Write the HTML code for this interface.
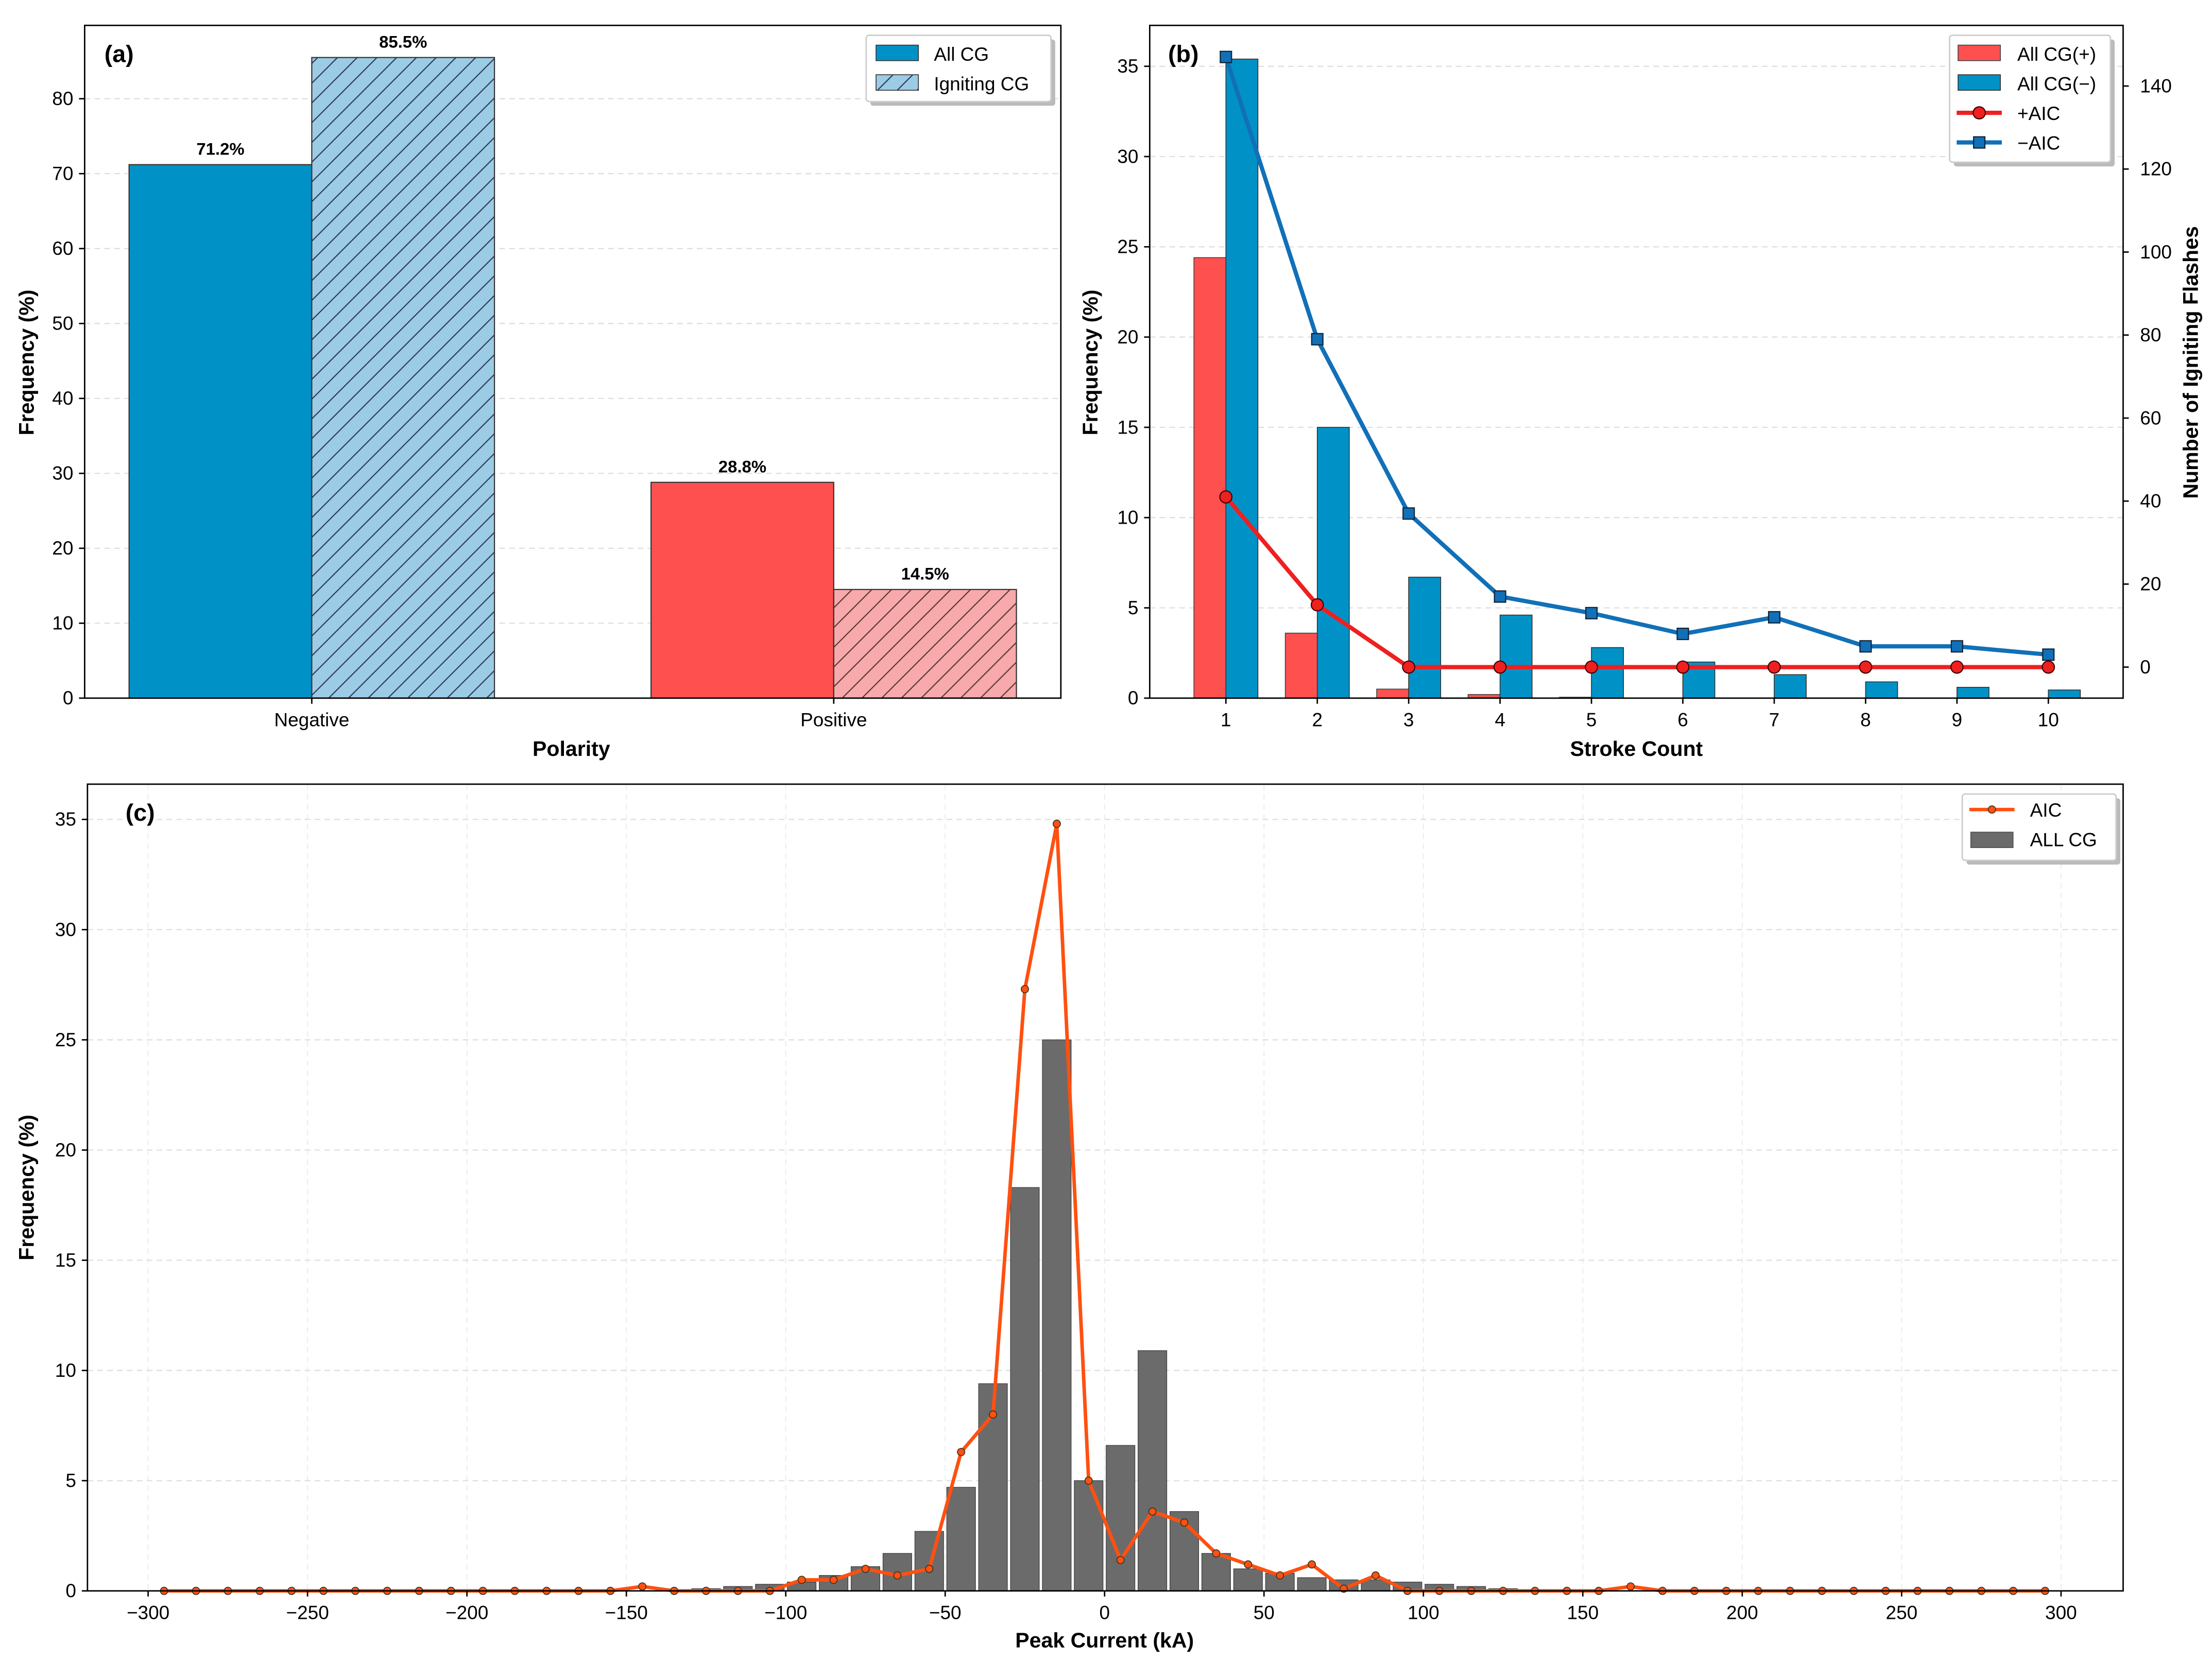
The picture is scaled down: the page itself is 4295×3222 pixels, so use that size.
<!DOCTYPE html>
<html><head><meta charset="utf-8"><style>
html,body{margin:0;padding:0;background:#fff}
svg{display:block;font-family:"Liberation Sans",sans-serif}
</style></head><body>
<svg id="s" width="4295" height="3222" viewBox="0 0 1568 1176.3" preserveAspectRatio="none" xmlns="http://www.w3.org/2000/svg">
<defs>
<pattern id="hb" patternUnits="userSpaceOnUse" width="14" height="14" patternTransform="rotate(0)">
<rect width="14" height="14" fill="#9ccbe6"/><path d="M-1,15 L15,-1 M-8,8 L8,-8 M6,22 L22,6" stroke="#2b3a55" stroke-width="0.8"/></pattern>
<pattern id="hr" patternUnits="userSpaceOnUse" width="14" height="14">
<rect width="14" height="14" fill="#f7a9ab"/><path d="M-1,15 L15,-1 M-8,8 L8,-8 M6,22 L22,6" stroke="#5a3535" stroke-width="0.8"/></pattern>
</defs>
<g id="ga"></g>
<g id="gb"></g>
<g id="gc"></g>
</svg>
<script>
// Panel a data
const aCats=["Negative","Positive"];
const aAll=[71.2,28.8];
const aIgn=[85.5,14.5];
const aYTicks=[0,10,20,30,40,50,60,70,80];
// Panel b data
const bCats=[1,2,3,4,5,6,7,8,9,10];
const bPos=[24.4,3.6,0.5,0.2,0.05,0,0,0,0,0];
const bNeg=[35.4,15.0,6.7,4.6,2.8,2.0,1.3,0.9,0.6,0.45];
const bPosAIC=[41,15,0,0,0,0,0,0,0,0];
const bNegAIC=[147,79,37,17,13,8,12,5,5,3];
const bYTicks=[0,5,10,15,20,25,30,35];
const bY2Ticks=[0,20,40,60,80,100,120,140];
// Panel c data
const cBarX=[-135,-125,-115,-105,-95,-85,-75,-65,-55,-45,-35,-25,-15,-5,5,15,25,35,45,55,65,75,85,95,105,115,125,135,145];
const cBarV=[0.05,0.1,0.2,0.3,0.4,0.7,1.1,1.7,2.7,4.7,9.4,18.3,25.0,5.0,6.6,10.9,3.6,1.7,1.0,0.8,0.6,0.5,0.5,0.4,0.3,0.2,0.1,0.05,0.03];
const cLineX=[-295,-285,-275,-265,-255,-245,-235,-225,-215,-205,-195,-185,-175,-165,-155,-145,-135,-125,-115,-105,-95,-85,-75,-65,-55,-45,-35,-25,-15,-5,5,15,25,35,45,55,65,75,85,95,105,115,125,135,145,155,165,175,185,195,205,215,225,235,245,255,265,275,285,295];
const cLineV=[0,0,0,0,0,0,0,0,0,0,0,0,0,0,0,0.2,0,0,0,0,0.5,0.5,1.0,0.7,1.0,6.3,8.0,27.3,34.8,5.0,1.4,3.6,3.1,1.7,1.2,0.7,1.2,0.1,0.7,0,0,0,0,0,0,0,0.2,0,0,0,0,0,0,0,0,0,0,0,0,0];
const cXTicks=[-300,-250,-200,-150,-100,-50,0,50,100,150,200,250,300];
const cYTicks=[0,5,10,15,20,25,30,35];

const NS="http://www.w3.org/2000/svg";
function el(p,t,a,txt){const e=document.createElementNS(NS,t);for(const k in a)e.setAttribute(k,a[k]);if(txt!==undefined)e.textContent=txt;p.appendChild(e);return e;}
function lin(d0,d1,r0,r1){return v=>r0+(v-d0)*(r1-r0)/(d1-d0);}

// ---------- Panel a ----------
(function(){
const g=document.getElementById('ga');
const L=60,R=752,T=18,B=495;
const x=lin(0,1,221,591), y=lin(0,80,495,70);
aYTicks.forEach(v=>{if(v>0){const l=el(g,'line',{x1:L,x2:R,y1:y(v),y2:y(v),stroke:'#ddd','stroke-dasharray':'4,3','stroke-width':0.8});}});
const bw=0.35*370;
aCats.forEach((c,i)=>{
 const col=i==0?'#0092c7':'#ff5050';
 const r1=el(g,'rect',{x:x(i)-bw,y:y(aAll[i]),width:bw,height:B-y(aAll[i]),fill:col,stroke:'#333','stroke-width':0.8});
 
 const r2=el(g,'rect',{x:x(i),y:y(aIgn[i]),width:bw,height:B-y(aIgn[i]),fill:i==0?'url(#hb)':'url(#hr)',stroke:'#333','stroke-width':0.8});
 
 const t1=el(g,'text',{x:x(i)-bw/2,y:y(aAll[i])-7,'text-anchor':'middle','font-size':12,'font-weight':'bold'},aAll[i].toFixed(1)+'%');
 
 const t2=el(g,'text',{x:x(i)+bw/2,y:y(aIgn[i])-7,'text-anchor':'middle','font-size':12,'font-weight':'bold'},aIgn[i].toFixed(1)+'%');
 
 el(g,'line',{x1:x(i),x2:x(i),y1:B,y2:B+4,stroke:'#000'});
 const tl=el(g,'text',{x:x(i),y:B+20,'text-anchor':'middle','font-size':13.5},c);
 
});
aYTicks.forEach(v=>{el(g,'line',{x1:L-4,x2:L,y1:y(v),y2:y(v),stroke:'#000'});
 const t=el(g,'text',{x:L-8,y:y(v)+4.5,'text-anchor':'end','font-size':13.5},v);});
el(g,'rect',{x:L,y:T,width:R-L,height:B-T,fill:'none',stroke:'#000','stroke-width':1});
let t=el(g,'text',{x:405,y:536,'text-anchor':'middle','font-size':15,'font-weight':'bold'},'Polarity');
t=el(g,'text',{x:0,y:0,transform:`translate(24,257) rotate(-90)`,'text-anchor':'middle','font-size':15,'font-weight':'bold'},'Frequency (%)');
t=el(g,'text',{x:74,y:44,'font-size':17,'font-weight':'bold'},'(a)');
const lg=el(g,'g',{});
el(lg,'rect',{x:617,y:28,width:131,height:47,fill:'#bbb',rx:2});
el(lg,'rect',{x:614,y:25,width:131,height:47,fill:'#fff',stroke:'#ccc',rx:2});
el(lg,'rect',{x:621,y:32,width:30,height:11,fill:'#0092c7',stroke:'#333','stroke-width':0.6});
el(lg,'rect',{x:621,y:53,width:30,height:11,fill:'url(#hb)',stroke:'#333','stroke-width':0.6});
el(lg,'text',{x:662,y:43,'font-size':13.5},'All CG');el(lg,'text',{x:662,y:64,'font-size':13.5},'Igniting CG');
})();

// ---------- Panel b ----------
(function(){
const g=document.getElementById('gb');
const L=815,R=1505,T=18,B=495;
const x=lin(1,10,869,1452), y=lin(0,35,495,47), y2=lin(0,140,473,61);
bYTicks.forEach(v=>{if(v>0){const l=el(g,'line',{x1:L,x2:R,y1:y(v),y2:y(v),stroke:'#ddd','stroke-dasharray':'4,3','stroke-width':0.8});}});
const bw=0.35*64.78;
bCats.forEach((c,i)=>{
 const r1=el(g,'rect',{x:x(c)-bw,y:y(bPos[i]),width:bw,height:B-y(bPos[i]),fill:'#ff5050',stroke:'#444','stroke-width':0.6});
 
 const r2=el(g,'rect',{x:x(c),y:y(bNeg[i]),width:bw,height:B-y(bNeg[i]),fill:'#0092c7',stroke:'#333','stroke-width':0.6});
 
 el(g,'line',{x1:x(c),x2:x(c),y1:B,y2:B+4,stroke:'#000'});
 const t=el(g,'text',{x:x(c),y:B+20,'text-anchor':'middle','font-size':13.5},c);
});
let p=el(g,'polyline',{points:bCats.map((c,i)=>x(c)+','+y2(bNegAIC[i])).join(' '),fill:'none',stroke:'#1170b8','stroke-width':3});

bCats.forEach((c,i)=>{const m=el(g,'rect',{x:x(c)-4,y:y2(bNegAIC[i])-4,width:8,height:8,fill:'#1170b8',stroke:'#123','stroke-width':0.8});});
p=el(g,'polyline',{points:bCats.map((c,i)=>x(c)+','+y2(bPosAIC[i])).join(' '),fill:'none',stroke:'#ee2020','stroke-width':3});

bCats.forEach((c,i)=>{const m=el(g,'circle',{cx:x(c),cy:y2(bPosAIC[i]),r:4.3,fill:'#ee2020',stroke:'#400','stroke-width':0.8});});
bYTicks.forEach(v=>{el(g,'line',{x1:L-4,x2:L,y1:y(v),y2:y(v),stroke:'#000'});
 const t=el(g,'text',{x:L-8,y:y(v)+4.5,'text-anchor':'end','font-size':13.5},v);});
bY2Ticks.forEach(v=>{el(g,'line',{x1:R,x2:R+4,y1:y2(v),y2:y2(v),stroke:'#000'});
 const t=el(g,'text',{x:R+12,y:y2(v)+4.5,'font-size':13.5},v);});
el(g,'rect',{x:L,y:T,width:R-L,height:B-T,fill:'none',stroke:'#000','stroke-width':1});
let t=el(g,'text',{x:1160,y:536,'text-anchor':'middle','font-size':15,'font-weight':'bold'},'Stroke Count');
t=el(g,'text',{x:0,y:0,transform:`translate(778,257) rotate(-90)`,'text-anchor':'middle','font-size':15,'font-weight':'bold'},'Frequency (%)');
t=el(g,'text',{x:0,y:0,transform:`translate(1558,257) rotate(-90)`,'text-anchor':'middle','font-size':15,'font-weight':'bold'},'Number of Igniting Flashes');
t=el(g,'text',{x:828,y:44,'font-size':17,'font-weight':'bold'},'(b)');
const lg=el(g,'g',{});
el(lg,'rect',{x:1385,y:28,width:114,height:90,fill:'#bbb',rx:2});
el(lg,'rect',{x:1382,y:25,width:114,height:90,fill:'#fff',stroke:'#ccc',rx:2});
el(lg,'rect',{x:1388,y:32,width:30,height:11,fill:'#ff5050',stroke:'#444','stroke-width':0.6});
el(lg,'rect',{x:1388,y:53,width:30,height:11,fill:'#0092c7',stroke:'#333','stroke-width':0.6});
el(lg,'line',{x1:1387,x2:1419,y1:80,y2:80,stroke:'#ee2020','stroke-width':3});el(lg,'circle',{cx:1403,cy:80,r:4.3,fill:'#ee2020',stroke:'#400','stroke-width':0.8});
el(lg,'line',{x1:1387,x2:1419,y1:101,y2:101,stroke:'#1170b8','stroke-width':3});el(lg,'rect',{x:1399,y:97,width:8,height:8,fill:'#1170b8',stroke:'#123','stroke-width':0.8});
el(lg,'text',{x:1430,y:43,'font-size':13.5},'All CG(+)');el(lg,'text',{x:1430,y:64,'font-size':13.5},'All CG(−)');
el(lg,'text',{x:1430,y:85,'font-size':13.5},'+AIC');el(lg,'text',{x:1430,y:106,'font-size':13.5},'−AIC');
})();

// ---------- Panel c ----------
(function(){
const g=document.getElementById('gc');
const L=62,R=1505,T=556,B=1128;
const x=lin(0,100,783,1009), y=lin(0,35,1128,581);
cXTicks.forEach(v=>{const l=el(g,'line',{x1:x(v),x2:x(v),y1:T,y2:B,stroke:'#eee','stroke-dasharray':'4,3','stroke-width':0.8});});
cYTicks.forEach(v=>{if(v>0){const l=el(g,'line',{x1:L,x2:R,y1:y(v),y2:y(v),stroke:'#ddd','stroke-dasharray':'4,3','stroke-width':0.8});}});
const bw=9*2.26;
cBarX.forEach((c,i)=>{const r=el(g,'rect',{x:x(c)-bw/2,y:y(cBarV[i]),width:bw,height:B-y(cBarV[i]),fill:'#6b6b6b',stroke:'#444','stroke-width':0.5});
 });
const p=el(g,'polyline',{points:cLineX.map((c,i)=>x(c)+','+y(cLineV[i])).join(' '),fill:'none',stroke:'#ff5010','stroke-width':2.5});

cLineX.forEach((c,i)=>{const m=el(g,'circle',{cx:x(c),cy:y(cLineV[i]),r:2.6,fill:'#ff5010',stroke:'#332','stroke-width':0.6});});
cXTicks.forEach(v=>{el(g,'line',{x1:x(v),x2:x(v),y1:B,y2:B+4,stroke:'#000'});
 const t=el(g,'text',{x:x(v),y:B+20,'text-anchor':'middle','font-size':13.5},v<0?'−'+(-v):v);});
cYTicks.forEach(v=>{el(g,'line',{x1:L-4,x2:L,y1:y(v),y2:y(v),stroke:'#000'});
 const t=el(g,'text',{x:L-8,y:y(v)+4.5,'text-anchor':'end','font-size':13.5},v);});
el(g,'rect',{x:L,y:T,width:R-L,height:B-T,fill:'none',stroke:'#000','stroke-width':1});
let t=el(g,'text',{x:783,y:1168,'text-anchor':'middle','font-size':15,'font-weight':'bold'},'Peak Current (kA)');
t=el(g,'text',{x:0,y:0,transform:`translate(24,842) rotate(-90)`,'text-anchor':'middle','font-size':15,'font-weight':'bold'},'Frequency (%)');
t=el(g,'text',{x:89,y:582,'font-size':17,'font-weight':'bold'},'(c)');
const lg=el(g,'g',{});
el(lg,'rect',{x:1394,y:566,width:109,height:47,fill:'#bbb',rx:2});
el(lg,'rect',{x:1391,y:563,width:109,height:47,fill:'#fff',stroke:'#ccc',rx:2});
el(lg,'line',{x1:1396,x2:1428,y1:574,y2:574,stroke:'#ff5010','stroke-width':2.5});el(lg,'circle',{cx:1412,cy:574,r:2.6,fill:'#ff5010',stroke:'#332','stroke-width':0.6});
el(lg,'rect',{x:1397,y:590,width:30,height:11,fill:'#6b6b6b',stroke:'#444','stroke-width':0.5});
el(lg,'text',{x:1439,y:579,'font-size':13.5},'AIC');el(lg,'text',{x:1439,y:600,'font-size':13.5},'ALL CG');
})();
</script>
</body></html>
